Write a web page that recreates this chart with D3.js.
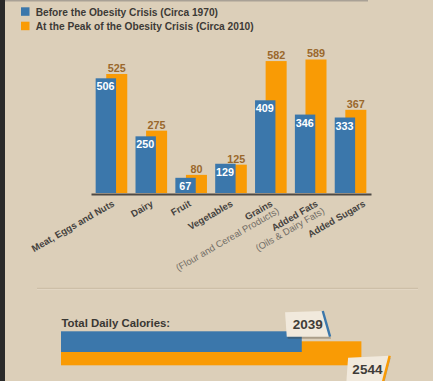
<!DOCTYPE html>
<html><head><meta charset="utf-8">
<script src="https://cdn.jsdelivr.net/npm/d3@7"></script>
<style>
html,body{margin:0;padding:0;background:#dccfb9;}
svg{display:block;}
</style></head>
<body>
<script>
// ---- data ----
const categories = ["Meat, Eggs and Nuts","Dairy","Fruit","Vegetables","Grains","Added Fats","Added Sugars"];
const subLabels = ["","","","","(Flour and Cereal Products)","(Oils & Dairy Fats)",""];
const before1970 = [506,250,67,129,409,346,333];
const peak2010 = [525,275,80,125,582,589,367];
const seriesNames = ["Before the Obesity Crisis (Circa 1970)","At the Peak of the Obesity Crisis (Circa 2010)"];
const totalTitle = "Total Daily Calories:";
const totals = [2039,2544];

// ---- style / layout ----
const W=433,H=381;
const BLUE="#3b77ab", ORANGE="#f99b05", BG="#dccfb9";
const NARROW="'Liberation Sans Narrow','Arial Narrow','Liberation Sans',Arial,sans-serif";
const SANS="'Liberation Sans',Arial,sans-serif";
const labelNudge=[0,-1,-3,-1,-1,4.5,12];

const svg=d3.select("body").append("svg").attr("width",W).attr("height",H);
svg.append("rect").attr("width",W).attr("height",H).attr("fill",BG);
svg.append("rect").attr("x",0).attr("y",0).attr("width",5).attr("height",H).attr("fill","#2a2a2a");
svg.append("rect").attr("x",5).attr("y",0).attr("width",363).attr("height",1.5).attr("fill","#a9a196");

// legend
const colors=[BLUE,ORANGE];
seriesNames.forEach((n,i)=>{
  const y0=[7.3,21.7][i];
  svg.append("rect").attr("x",21).attr("y",y0).attr("width",8.5).attr("height",8.5).attr("fill",colors[i]);
  svg.append("text").attr("x",35.7).attr("y",y0+8.3).text(n)
    .attr("font-family",NARROW).attr("font-weight","bold").attr("font-size",10.2)
    .attr("fill","#3d3a36");
});

// main chart
const x=d3.scaleBand().domain(categories).range([91,371]).paddingInner(0.207).paddingOuter(0.117);
const y=d3.scaleLinear().domain([0,600]).range([193,57]);
const bw=x.bandwidth();
const g=svg.append("g");
// orange behind
g.selectAll("rect.o").data(peak2010).join("rect").attr("class","o")
  .attr("x",(d,i)=>x(categories[i])+bw*0.335).attr("width",bw*0.665)
  .attr("y",d=>y(d)).attr("height",d=>y(0)-y(d)).attr("fill",ORANGE);
g.selectAll("rect.b").data(before1970).join("rect").attr("class","b")
  .attr("x",(d,i)=>x(categories[i])).attr("width",bw*0.645)
  .attr("y",d=>y(d)).attr("height",d=>y(0)-y(d)).attr("fill",BLUE);
// axis line
svg.append("g").attr("transform","translate(0,194)")
  .call(d3.axisBottom(x).tickSize(0).tickFormat(""))
  .call(s=>s.select(".domain").attr("stroke","#4d4944").attr("stroke-width",2));
// value labels
g.selectAll("text.bv").data(before1970).join("text").attr("class","bv")
  .attr("x",(d,i)=>x(categories[i])+bw*0.31).attr("y",d=>y(d)+12)
  .attr("text-anchor","middle").attr("font-family",NARROW).attr("font-weight","bold")
  .attr("font-size",10.8).attr("fill","#ffffff").text(d=>d);
g.selectAll("text.ov").data(peak2010).join("text").attr("class","ov")
  .attr("x",(d,i)=>x(categories[i])+bw*0.335+bw*0.665/2).attr("y",d=>y(d)-2)
  .attr("text-anchor","middle").attr("font-family",NARROW).attr("font-weight","bold")
  .attr("font-size",10.8).attr("fill","#9a682c").text(d=>d);
// category labels
categories.forEach((c,i)=>{
  const cx=x(c)+bw/2+labelNudge[i]+3.5;
  const t=svg.append("text").attr("transform",`translate(${cx},205.5) rotate(-30)`)
    .attr("text-anchor","end").attr("font-family",NARROW).attr("font-size",9.5);
  t.append("tspan").attr("x",0).attr("y",0).attr("font-weight","bold").attr("fill","#45423e").text(c);
  if(subLabels[i]) t.append("tspan").attr("x",2).attr("y",9.5).attr("fill","#716c65").text(subLabels[i]);
});

// separator
svg.append("line").attr("x1",37).attr("x2",418).attr("y1",288.3).attr("y2",288.3)
  .attr("stroke","#cdbfa8").attr("stroke-width",1.2);
svg.append("line").attr("x1",37).attr("x2",418).attr("y1",289.5).attr("y2",289.5)
  .attr("stroke","#e3d8c5").attr("stroke-width",0.8);

// totals
svg.append("text").attr("x",61.5).attr("y",326.8).text(totalTitle)
  .attr("font-family",SANS).attr("font-weight","bold").attr("font-size",11.4).attr("fill","#3a3733");
const xt=d3.scaleLinear().domain([0,2600]).range([61,368]);
const barY=[331.3,341.3], barH=[20.7,24];
[1,0].forEach(i=>{
  svg.append("rect").attr("x",xt(0)).attr("y",barY[i]).attr("width",xt(totals[i])-xt(0))
    .attr("height",barH[i]).attr("fill",colors[i]);
});
// tags
const tagShapes=[
  {cy:324, pts:[[-22.7,-11.7],[15,-13],[22.3,12.7],[-21,12.7]]},
  {cy:369, pts:[[-19.3,-11.3],[22.3,-13.3],[15.7,12.5],[-21,12.5]]}
];
totals.forEach((v,i)=>{
  const cx=xt(v)+6, s=tagShapes[i];
  const tg=svg.append("g").attr("transform",`translate(${cx},${s.cy})`);
  tg.append("polygon").attr("points",s.pts.map(p=>[p[0]+1,p[1]+2].join(",")).join(" ")).attr("fill","rgba(60,45,25,0.3)");
  tg.append("polygon").attr("points",s.pts.map(p=>p.join(",")).join(" ")).attr("fill","#f1e9dc");
  tg.append("line").attr("x1",s.pts[1][0]).attr("y1",s.pts[1][1]).attr("x2",s.pts[2][0]).attr("y2",s.pts[2][1])
    .attr("stroke",colors[i]).attr("stroke-width",2.4);
  tg.append("text").attr("x",0).attr("y",4.8).attr("text-anchor","middle")
    .attr("font-family",SANS).attr("font-weight","bold").attr("font-size",13.5).attr("fill","#3f3c38").text(v);
});
</script>
</body></html>
